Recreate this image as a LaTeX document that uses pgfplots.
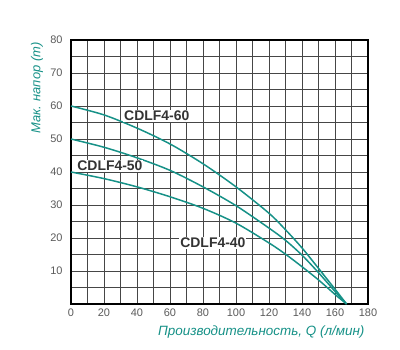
\documentclass[border=0pt]{standalone}
\usepackage{fontspec}
\setmainfont{Liberation Sans}
\usepackage{pgfplots}
\pgfplotsset{compat=1.18}
\definecolor{teal1}{RGB}{22,145,135}
\definecolor{gridc}{RGB}{70,70,70}
\definecolor{tickc}{RGB}{90,90,90}
\definecolor{lblc}{RGB}{51,51,51}
\begin{document}
\begin{tikzpicture}[x=1bp,y=1bp]
\path[use as bounding box] (-71,-46) rectangle (329,304);
\begin{axis}[
  at={(0,0)}, anchor=origin,
  scale only axis, width=297bp, height=264bp,
  xmin=0, xmax=180, ymin=0, ymax=80,
  xtick={0,20,...,180}, ytick={10,20,...,80},
  minor xtick={10,30,...,170}, minor ytick={5,15,...,75},
  grid=both,
  major grid style={gridc, line width=0.8pt},
  minor grid style={gridc, line width=0.8pt},
  major tick length=0pt, minor tick length=0pt,
  axis line style={black, line width=1.6pt},
  /pgf/number format/assume math mode=true,
  tick label style={font=\fontsize{11}{13}\selectfont, text=tickc},
  xticklabel style={yshift=-1pt},
  yticklabel style={xshift=-5pt},
  clip=false,
]
\addplot[teal1, line width=1.5pt, smooth] coordinates {
 (0,60) (20,57.3) (40,53.3) (60,48.5) (80,42.5) (100,35.5) (120,27.5) (130,22.5) (140,17) (150,10.8) (160,4.5) (167,0)};
\addplot[teal1, line width=1.5pt, smooth] coordinates {
 (0,50) (20,47.5) (40,44.3) (60,40.5) (80,35.5) (100,29.8) (120,23) (130,19.3) (140,14.8) (150,9.5) (160,3.8) (167,0)};
\addplot[teal1, line width=1.5pt, smooth] coordinates {
 (0,40) (20,38) (40,35.5) (60,32.5) (80,29) (100,24.5) (120,18.5) (130,15.1) (140,11.3) (150,7.3) (160,2.9) (167,0)};
\node[font=\fontsize{14}{16}\bfseries\selectfont, text=lblc, fill=white, inner sep=1pt] at (axis cs:52,57) {CDLF4-60};
\node[font=\fontsize{14}{16}\bfseries\selectfont, text=lblc, fill=white, inner sep=1pt] at (axis cs:23.6,41.8) {CDLF4-50};
\node[font=\fontsize{14}{16}\bfseries\selectfont, text=lblc, fill=white, inner sep=1pt] at (axis cs:86,18.5) {CDLF4-40};
\end{axis}
\node[font=\fontsize{13.5}{15}\itshape\selectfont, text=teal1, anchor=east] at (297,-28) {Производительность, Q (л/мин)};
\node[font=\fontsize{13}{15}\itshape\selectfont, text=teal1, rotate=90, anchor=east] at (-34,265) {Мак. напор (m)};
\end{tikzpicture}
\end{document}
